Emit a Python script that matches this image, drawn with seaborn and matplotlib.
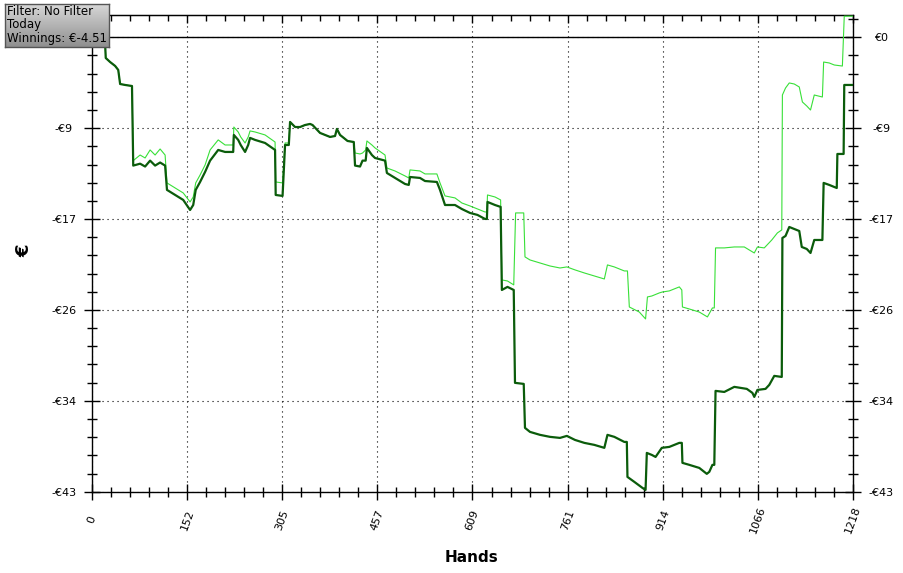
import matplotlib
matplotlib.use("Agg")
import matplotlib.pyplot as plt
import numpy as np
import pandas as pd
import seaborn as sns
from matplotlib.ticker import AutoMinorLocator

sns.set_style("white")
plt.rcParams["font.family"] = ["DejaVu Sans"]
plt.rcParams["text.color"] = "black"
plt.rcParams["axes.labelcolor"] = "black"
plt.rcParams["xtick.color"] = "black"
plt.rcParams["ytick.color"] = "black"

# winnings line (dark green), breakpoints
won_hands = [0, 13, 21, 22, 29, 37, 42, 45, 53, 64, 66, 77, 85, 93, 101, 109, 117, 120, 133, 146,
             157, 162, 166, 173, 181, 189, 202, 213, 226, 227, 234, 238, 245, 250, 253, 261, 277, 293, 294, 305,
             309, 315, 317, 325, 333, 341, 349, 353, 365, 381, 389, 392, 397, 409, 419, 421, 429, 433, 438, 440,
             448, 453, 469, 472, 485, 501, 507, 509, 525, 533, 552, 557, 565, 581, 592, 605, 617, 629, 632, 633,
             645, 654, 656, 665, 675, 677, 691, 693, 701, 717, 733, 749, 760, 773, 788, 804, 820, 825, 836, 852,
             856, 857, 868, 881, 886, 888, 896, 902, 912, 924, 940, 944, 945, 956, 972, 984, 988, 993, 996, 998,
             1012, 1028, 1048, 1057, 1060, 1065, 1078, 1084, 1092, 1104, 1105, 1110, 1116, 1124, 1132, 1136, 1144, 1150, 1156, 1169,
             1171, 1180, 1192, 1193, 1203, 1204, 1218]
won_euros = [0, -0.26, -0.63, -1.96, -2.34, -2.71, -3.09, -4.42, -4.51, -4.61, -12.14, -11.96, -12.23, -11.67, -12.14, -11.85, -12.14, -14.44, -14.92, -15.39,
             -16.34, -15.87, -14.44, -13.69, -12.74, -11.67, -10.66, -10.85, -10.85, -9.24, -9.71, -10.19, -10.85, -10.19, -9.52, -9.71, -10.0, -10.66, -14.92, -15.01,
             -10.19, -10.19, -8.01, -8.49, -8.49, -8.30, -8.20, -8.30, -9.05, -9.43, -9.34, -8.67, -9.24, -9.81, -9.91, -12.14, -12.23, -11.67, -11.67, -10.47,
             -11.14, -11.42, -11.67, -12.84, -13.31, -13.88, -13.97, -13.22, -13.31, -13.60, -13.69, -14.44, -15.87, -15.87, -16.25, -16.62, -16.81, -17.19, -17.19, -15.58,
             -15.87, -16.05, -23.91, -23.62, -23.91, -32.70, -32.80, -36.96, -37.34, -37.62, -37.81, -37.91, -37.72, -38.10, -38.38, -38.57, -38.85, -37.62, -37.81, -38.29,
             -38.29, -41.60, -42.07, -42.64, -42.83, -39.33, -39.52, -39.71, -38.85, -38.76, -38.38, -38.38, -40.27, -40.46, -40.75, -41.31, -41.12, -40.46, -40.46, -33.46,
             -33.56, -33.08, -33.27, -33.65, -34.03, -33.37, -33.27, -32.89, -32.04, -32.14, -18.99, -18.80, -17.95, -18.14, -18.33, -19.84, -20.03, -20.41, -19.18, -19.18,
             -13.78, -13.97, -14.26, -11.04, -11.04, -4.51, -4.51]

# second line (light green)
alt_hands = [0, 13, 21, 22, 29, 37, 42, 45, 53, 64, 66, 77, 85, 93, 101, 109, 117, 120, 133, 146,
             157, 162, 166, 173, 181, 189, 202, 213, 226, 227, 234, 238, 245, 250, 253, 261, 277, 293, 294, 305,
             309, 315, 317, 325, 333, 341, 349, 353, 365, 381, 389, 392, 397, 409, 419, 421, 429, 433, 438, 440,
             448, 453, 469, 472, 485, 501, 507, 509, 525, 533, 552, 557, 565, 581, 592, 605, 617, 629, 632, 633,
             645, 654, 656, 665, 675, 678, 691, 693, 701, 717, 733, 749, 760, 773, 788, 804, 820, 825, 836, 852,
             857, 860, 876, 886, 889, 896, 908, 913, 924, 940, 944, 945, 956, 972, 985, 993, 996, 998, 1012, 1028,
             1044, 1060, 1065, 1076, 1088, 1097, 1104, 1105, 1110, 1116, 1124, 1132, 1137, 1144, 1150, 1156, 1169, 1171, 1180, 1188,
             1201, 1204, 1218]
alt_euros = [0, -0.26, -0.63, -1.96, -2.34, -2.71, -3.09, -4.42, -4.51, -4.61, -11.67, -11.14, -11.42, -10.66, -11.14, -10.57, -11.14, -13.78, -14.26, -14.73,
             -15.58, -15.11, -13.78, -13.03, -12.08, -10.66, -9.71, -10.19, -10.19, -8.49, -8.96, -9.43, -10.0, -9.43, -8.86, -8.96, -9.24, -9.91, -13.69, -13.78,
             -10.0, -10.0, -8.01, -8.49, -8.49, -8.30, -8.20, -8.30, -9.05, -9.43, -9.34, -8.67, -9.24, -9.81, -9.91, -10.95, -11.04, -10.95, -10.66, -9.81,
             -10.19, -10.47, -11.14, -12.37, -12.65, -13.12, -13.31, -12.55, -12.65, -12.93, -12.93, -13.78, -15.01, -15.20, -15.68, -15.96, -16.25, -16.53, -16.53, -14.92,
             -15.11, -15.39, -22.96, -23.06, -23.43, -16.62, -16.62, -20.78, -21.07, -21.35, -21.64, -21.83, -21.73, -22.01, -22.30, -22.58, -22.87, -21.54, -21.73, -22.11,
             -22.11, -25.52, -26.0, -26.65, -24.57, -24.48, -24.19, -24.10, -24.0, -23.62, -23.91, -25.52, -25.71, -26.0, -26.46, -25.61, -25.61, -19.93, -19.93, -19.84,
             -19.84, -20.41, -19.84, -19.93, -19.18, -18.51, -18.23, -5.46, -4.80, -4.32, -4.42, -4.70, -6.12, -6.50, -6.88, -5.46, -5.65, -2.34, -2.43, -2.62,
             -2.72, 2.0, 2.0]

x_ticks = [0, 152.25, 304.5, 456.75, 609, 761.25, 913.5, 1065.75, 1218]
x_tick_labels = ["0", "152", "305", "457", "609", "761", "914", "1066", "1218"]
y_ticks = [0, -8.6, -17.2, -25.8, -34.4, -43]
y_tick_labels = ["€0", "-€9", "-€17", "-€26", "-€34", "-€43"]

info_lines = ["Filter: No Filter", "Today", "Winnings: €-4.51"]

df_won = pd.DataFrame({"hands": won_hands, "euros": won_euros})
df_alt = pd.DataFrame({"hands": alt_hands, "euros": alt_euros})

fig = plt.figure(figsize=(9.04, 5.73), dpi=100)
ax = fig.add_axes([92 / 904, 81.3 / 573, 761 / 904, 476.7 / 573])

sns.lineplot(data=df_alt, x="hands", y="euros", ax=ax, color="#38e038", linewidth=0.8,
             estimator=None, sort=False, zorder=3)
sns.lineplot(data=df_won, x="hands", y="euros", ax=ax, color="#0b5c0b", linewidth=1.6,
             estimator=None, sort=False, zorder=4)
ax.axhline(0, color="black", linewidth=1, zorder=2)

ax.set_xlim(0, 1218)
ax.set_ylim(-43, 2.11)
ax.set_xticks(x_ticks, x_tick_labels)
ax.set_yticks(y_ticks, y_tick_labels)
ax.xaxis.set_minor_locator(AutoMinorLocator(5))
ax.yaxis.set_minor_locator(AutoMinorLocator(5))

ax.grid(which="major", color="black", linestyle=(0, (1, 3.5)), linewidth=0.8)
ax.tick_params(which="major", direction="inout", length=12, width=1, color="black", labelsize=8, pad=14.5)
ax.tick_params(which="minor", direction="inout", length=6.5, width=1, color="black")
ax.tick_params(axis="y", which="both", left=True, right=True, labelleft=True, labelright=True)
ax.tick_params(axis="x", which="both", bottom=True, top=False)
for t in ax.yaxis.get_major_ticks():
    t.label1.set_ha("center")
    t.label2.set_ha("center")
# the left "€0" sits under the info box in the original
ax.yaxis.get_major_ticks()[0].label1.set_visible(False)
for t in ax.xaxis.get_major_ticks():
    t.label1.set_rotation(70)
    t.label1.set_ha("center")
    t.label1.set_va("center")

top = ax.secondary_xaxis("top")
top.set_xticks(x_ticks, [])
top.xaxis.set_minor_locator(AutoMinorLocator(5))
top.tick_params(which="major", direction="in", length=6, width=1)
top.tick_params(which="minor", direction="in", length=4, width=1)

for s in ax.spines.values():
    s.set_color("black")
    s.set_linewidth(1)

ax.set_xlabel("Hands", fontsize=11, fontweight="bold", va="center", color="black")
ax.xaxis.set_label_coords(0.4987, -0.138)
ax.set_ylabel("€", fontsize=13, fontweight="bold", va="center", ha="center", color="black")
ax.yaxis.set_label_coords(-0.0894, 0.505)

# info box with grey gradient
box = fig.add_axes([5 / 904, 1 - 47 / 573, 104 / 904, 43 / 573])
grad = np.linspace(0.84, 0.56, 60).reshape(-1, 1)
box.imshow(grad, cmap="gray", vmin=0, vmax=1, aspect="auto")
box.set_xticks([])
box.set_yticks([])
for s in box.spines.values():
    s.set_color("#555555")
    s.set_linewidth(1)
for i, line in enumerate(info_lines):
    box.text(0.02, [0.744, 0.442, 0.123][i], line, transform=box.transAxes,
             fontsize=8.5, color="black", va="baseline", ha="left")

fig.savefig("out.png", dpi=100)
